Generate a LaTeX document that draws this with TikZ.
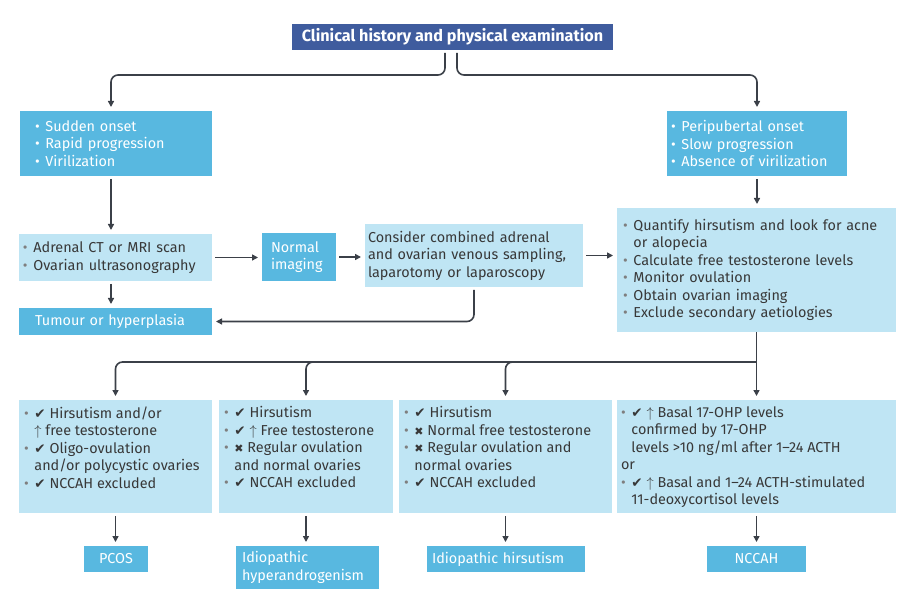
\documentclass[tikz,border=0pt]{standalone}
\usepackage{fontspec}
\setmainfont{Fira Sans}
\newfontfamily\symfont{DejaVu Sans}
\usepackage{xcolor}
\definecolor{headblue}{HTML}{3F5C9E}
\definecolor{midblue}{HTML}{58B8E0}
\definecolor{paleblue}{HTML}{BFE5F4}
\definecolor{linegray}{HTML}{3B4048}
\definecolor{textdark}{HTML}{383838}
\definecolor{dotgray}{HTML}{7F7F7F}
\usetikzlibrary{arrows.meta}
\usetikzlibrary{positioning}

\newcommand{\bul}{{\color{dotgray}\textbullet}\hspace{0.4em}}
\newcommand{\wbul}{\textbullet\hspace{0.4em}}
\newcommand{\ind}{\hphantom{\textbullet\hspace{0.4em}}}
\newcommand{\isok}{{\symfont\fontsize{13.5}{12}\selectfont ✔}}
\newcommand{\isnot}{{\symfont\fontsize{11}{12}\selectfont ✖}}
\newcommand{\incr}{$\uparrow$}
\newcommand{\critpar}[2]{\parbox[c][113pt][t]{#1}{\raggedright\vspace*{6.5pt}#2}}

\begin{document}
\begin{tikzpicture}[x=1pt, y=-1pt,
    box/.style={anchor=north west, outer sep=0pt, inner ysep=0pt, font=\fontsize{14.4}{17.5}\selectfont},
    pale/.style={box, fill=paleblue, text=textdark, align=left},
    mid/.style={box, fill=midblue, text=white, align=left},
    link/.style={draw=linegray, line width=1.6pt, rounded corners=7pt, shorten <=3pt, shorten >=4pt, -{Triangle[length=6pt, width=6pt]}}]
\useasboundingbox (0,0) rectangle (912,601);

\coordinate (leftcol) at (111,0);
\coordinate (split) at (756.5,362);

% top row
\node(clin)[box, anchor=center, fill=headblue, text=white, minimum width=321pt, minimum height=26pt, font=\fontsize{16.2}{16}\selectfont\bfseries] at (452.5,37) {Clinical history and physical examination};
\node(sudden)[mid, text width=162pt, inner xsep=15pt, minimum height=65pt] at (20,111) {\wbul Sudden onset\\\wbul Rapid progression\\\wbul Virilization};
\node(peri)[mid, text width=172pt, inner xsep=4pt, minimum height=65pt] at (667,111) {\wbul Peripubertal onset\\\wbul Slow progression\\\wbul Absence of virilization};

% middle row
\node(imaging)[pale, text width=185pt, inner xsep=4pt, minimum height=47pt] at (19,234) {\bul Adrenal CT or MRI scan\\\bul Ovarian ultrasonography};
\node(normal)[mid, text width=56pt, inner xsep=9pt, minimum height=48pt] at (262,233) {Normal\\imaging};
\node(sampling)[pale, text width=212pt, inner xsep=3pt, minimum height=63pt] at (365,224) {Consider combined adrenal\\and ovarian venous sampling,\\laparotomy or laparoscopy};
\node(workup)[pale, text width=267pt, inner xsep=6pt, minimum height=124pt] at (617,208) {\bul Quantify hirsutism and look for acne\\\ind or alopecia\\\bul Calculate free testosterone levels\\\bul Monitor ovulation\\\bul Obtain ovarian imaging\\\bul Exclude secondary aetiologies};
\node(tumour)[mid, text width=161pt, inner xsep=16pt, minimum height=27pt] at (19,308) {Tumour or hyperplasia};

% criteria
\node(pcoscrit)[pale, inner xsep=5pt] at (19,400) {\critpar{183pt}{\bul\isok\ Hirsutism and/or\\\ind\incr\ free testosterone\\\bul\isok\ Oligo-ovulation\\\ind and/or polycystic ovaries\\\bul\isok\ NCCAH excluded}};
\node(hypercrit)[pale, inner xsep=5pt] at (219,400) {\critpar{164pt}{\bul\isok\ Hirsutism\\\bul\isok\ \incr\ Free testosterone\\\bul\isnot\ Regular ovulation\\\ind and normal ovaries\\\bul\isok\ NCCAH excluded}};
\node(hirscrit)[pale, inner xsep=5pt] at (399,400) {\critpar{203pt}{\bul\isok\ Hirsutism\\\bul\isnot\ Normal free testosterone\\\bul\isnot\ Regular ovulation and\\\ind normal ovaries\\\bul\isok\ NCCAH excluded}};
\node(nccahcrit)[pale, inner xsep=4pt] at (617,400) {\critpar{271pt}{\bul\isok\ \incr\ Basal 17-OHP levels\\\ind confirmed by 17-OHP\\\ind levels >10 ng/ml after 1--24 ACTH\\or\\\bul\isok\ \incr\ Basal and 1--24 ACTH-stimulated\\\ind 11-deoxycortisol levels}};

% outcomes
\node(pcos)[mid, minimum width=64pt, minimum height=26pt] at (84,546) {PCOS};
\node(hyper)[mid, text width=131pt, inner xsep=6pt, minimum height=43pt] at (236,546) {Idiopathic\\hyperandrogenism};
\node(hirs)[mid, text width=148pt, inner xsep=5pt, minimum height=26pt] at (427,546) {Idiopathic hirsutism};
\node(nccah)[mid, minimum width=99pt, minimum height=26pt] at (707,546) {NCCAH};

% connectors
\draw[link] ([xshift=-7.5pt]clin.south) -- ++(0,25) -| (sudden.north -| leftcol);
\draw[link] ([xshift=4.5pt]clin.south) -- ++(0,25) -| (peri.north);
\draw[link] (sudden.south -| leftcol) -- (imaging.north -| leftcol);
\draw[link] (peri.south) -- (peri.south |- workup.north);
\draw[link] (imaging.east) -- (imaging.east -| normal.west);
\draw[link] (normal.east) -- (normal.east -| sampling.west);
\draw[link] (sampling.east) -- (sampling.east -| workup.west);
\draw[link] (imaging.south -| leftcol) -- (tumour.north -| leftcol);
\draw[link] (sampling.south) |- (tumour.east);
\draw[link, shorten <=0pt] (workup.south) -- (nccahcrit.north);
\draw[link, shorten <=0pt] (split) -| (pcoscrit.north);
\draw[link, shorten <=0pt] (split) -| (hypercrit.north);
\draw[link, shorten <=0pt] (split) -| (hirscrit.north);
\draw[link] (pcoscrit.south) -- (pcoscrit.south |- pcos.north);
\draw[link] (hypercrit.south) -- (hypercrit.south |- hyper.north);
\draw[link] (hirscrit.south) -- (hirscrit.south |- hirs.north);
\draw[link] (nccahcrit.south) -- (nccahcrit.south |- nccah.north);
\end{tikzpicture}
\end{document}
